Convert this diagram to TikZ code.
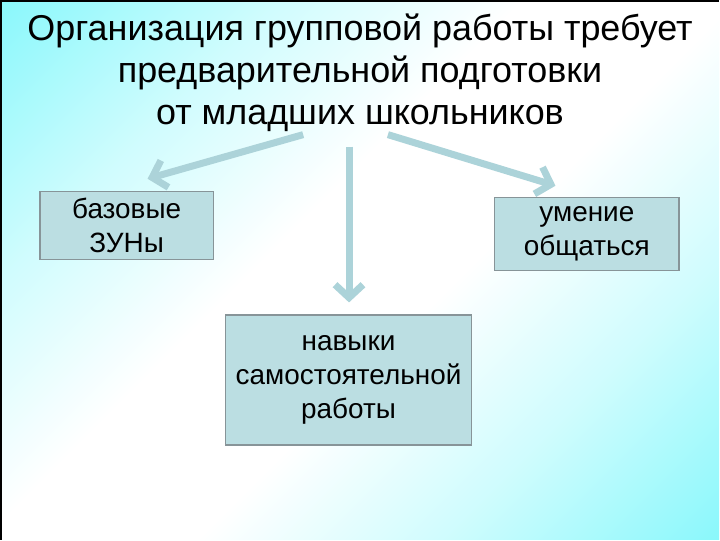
\documentclass[tikz,border=0pt]{standalone}
\usepackage{fontspec}
\setmainfont{Liberation Sans}
\usetikzlibrary{arrows.meta,positioning,calc}
\definecolor{SlideCyan}{RGB}{95,245,250}
\colorlet{CyanHigh}{SlideCyan!80!white}
\colorlet{CyanLow}{SlideCyan!30!white}
\definecolor{BoxFill}{RGB}{187,222,226}
\definecolor{BoxLine}{RGB}{135,148,152}
\definecolor{ArrowBlue}{RGB}{172,211,217}
\pgfdeclareverticalshading{slidebg}{100bp}{color(0bp)=(SlideCyan); color(12bp)=(CyanHigh); color(30bp)=(CyanLow); color(44bp)=(white); color(56bp)=(white); color(70bp)=(CyanLow); color(88bp)=(CyanHigh); color(100bp)=(SlideCyan)}

\begin{document}
\begin{tikzpicture}[x=1pt,y=-1pt,>={Straight Barb[length=13pt,width=28pt]}]
\tikzset{skill/.style={draw=BoxLine,line width=1.5pt,fill=BoxFill,align=center,inner sep=0pt,font=\fontsize{28}{34}\selectfont},
link/.style={->,draw=ArrowBlue,line width=7pt}}
\shade[shading=slidebg,shading angle=45] (0,0) rectangle (720,540);
\draw[line width=2pt] (0,540)--(0,0)--(720,0);
\node[align=center,inner sep=0pt,anchor=north,font=\fontsize{36}{42}\selectfont] (title) at (360,13) {Организация групповой работы требует\\предварительной подготовки\\от младших школьников};
\node[skill,minimum width=174pt,minimum height=68pt] (zun) at (126,225) {базовые\\ЗУНы};
\node[skill,minimum width=185pt,minimum height=73pt] (talk) at (587.5,233.5) {умение\\общаться};
\node[skill,minimum width=247pt,minimum height=130pt] (self) at (348.5,380) {навыки\\самостоятельной\\работы};
\coordinate (lt) at (303,134);
\coordinate (mt) at (349,146);
\coordinate (rt) at (388,134);
\draw[link] (lt)--($(zun.north)+(21,-12)$);
\draw[link] (mt)--($(self.north)+(0.5,-12)$);
\draw[link] (rt)--($(talk.north)+(-31.5,-11)$);
\end{tikzpicture}
\end{document}
